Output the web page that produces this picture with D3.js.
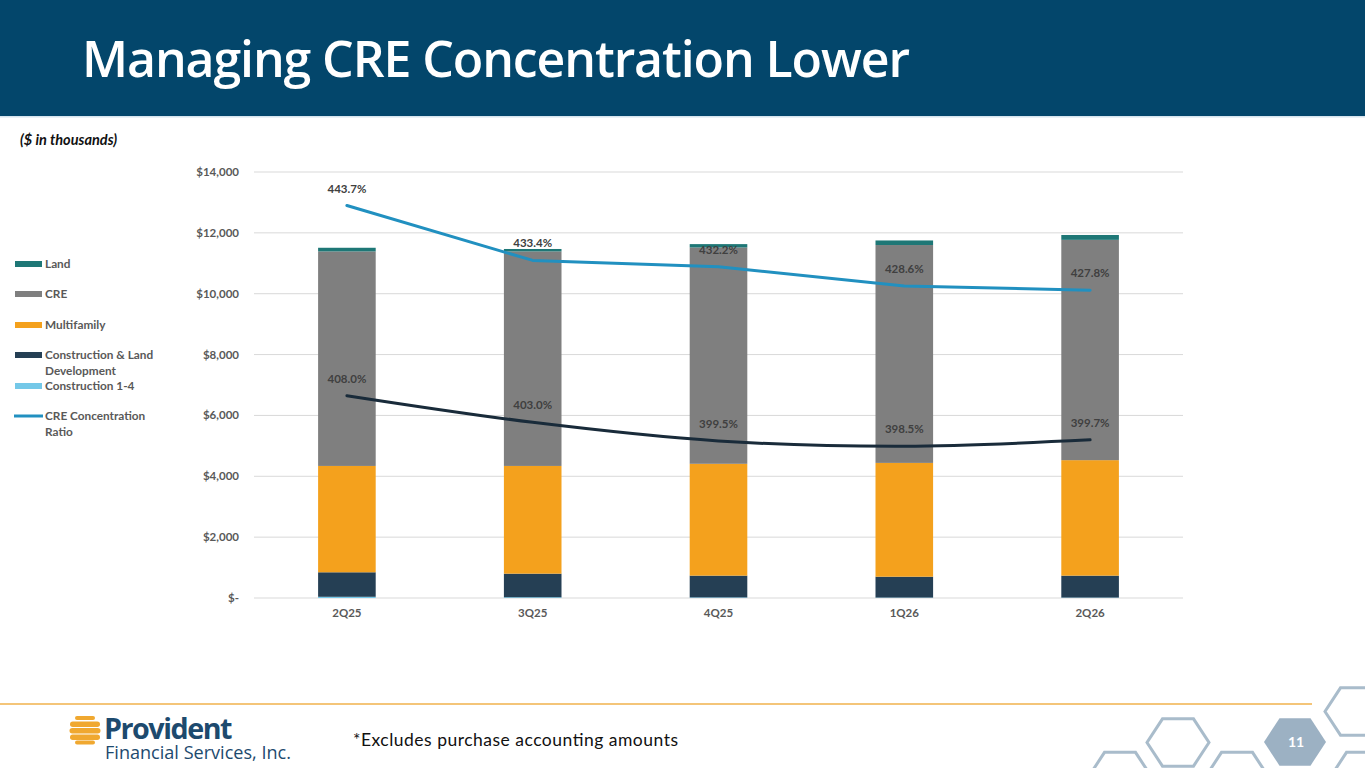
<!DOCTYPE html>
<html>
<head>
<meta charset="utf-8">
<script src="https://cdn.jsdelivr.net/npm/d3@7"></script>
<style>
  body { margin: 0; background: #fff; }
  svg { display: block; }
</style>
</head>
<body>
<svg id="slide" width="1365" height="768"></svg>
<script>
// quarters and stacked loan balances ($ thousands)
var quarters = ["2Q25", "3Q25", "4Q25", "1Q26", "2Q26"];
var construction14 = [40, 25, 20, 15, 15];
var constructionLand = [805, 775, 715, 685, 720];
var multifamily = [3495, 3540, 3675, 3740, 3795];
var cre = [7050, 7050, 7110, 7160, 7240];
var land = [120, 80, 110, 150, 160];

// ratios (%)
var creRatio = [443.7, 433.4, 432.2, 428.6, 427.8];
var creRatioAdj = [408.0, 403.0, 399.5, 398.5, 399.7];

var yTicks = [0, 2000, 4000, 6000, 8000, 10000, 12000, 14000];

var seriesKeys = ["c14", "cld", "mf", "cre", "land"];
var seriesColor = {
  c14: "#74c8e8", cld: "#253f54", mf: "#f4a11d", cre: "#7f7f7f", land: "#1e7776"
};

var rows = quarters.map((q, i) => ({
  q: q, c14: construction14[i], cld: constructionLand[i], mf: multifamily[i],
  cre: cre[i], land: land[i]
}));

var svg = d3.select("#slide");
var font = "Lato, 'Open Sans', sans-serif";

// header band
svg.append("rect").attr("width", 1365).attr("height", 116).attr("fill", "#03466b");
svg.append("rect").attr("y", 116).attr("width", 1365).attr("height", 1.5).attr("fill", "#d5e4ee");
svg.append("text")
    .attr("x", 82).attr("y", 77)
    .attr("fill", "#fff")
    .attr("font-family", "'Open Sans', sans-serif")
    .attr("font-weight", 600)
    .attr("font-size", 50)
    .attr("textLength", 828)
    .text("Managing CRE Concentration Lower");

svg.append("text")
    .attr("x", 20).attr("y", 145)
    .attr("font-family", font)
    .attr("font-style", "italic").attr("font-weight", 700)
    .attr("font-size", 14.5)
    .attr("fill", "#111")
    .text("($ in thousands)");

// chart area
var plotLeft = 254, plotRight = 1183, plotTop = 172, plotBottom = 598;

var x = d3.scaleBand().domain(quarters).range([plotLeft, plotRight]).paddingInner(0.69).paddingOuter(0.345);
var y = d3.scaleLinear().domain([0, 14000]).range([plotBottom, plotTop]);
var y2 = d3.scaleLinear().domain([370, 450]).range([plotBottom, plotTop]);

var g = svg.append("g");

g.selectAll("line.grid")
  .data(yTicks)
  .enter()
  .append("line")
    .attr("x1", plotLeft).attr("x2", plotRight)
    .attr("y1", d => y(d)).attr("y2", d => y(d))
    .attr("stroke", "#d9d9d9").attr("stroke-width", 1);

g.selectAll("text.ytick")
  .data(yTicks)
  .enter()
  .append("text")
    .attr("x", 239).attr("y", d => y(d) + 4)
    .attr("text-anchor", "end")
    .attr("font-family", font).attr("font-weight", 700).attr("font-size", 11.5)
    .attr("fill", "#595959")
    .text(d => d === 0 ? "$-" : "$" + d3.format(",")(d));

g.selectAll("text.xtick")
  .data(quarters)
  .enter()
  .append("text")
    .attr("x", d => x(d) + x.bandwidth() / 2).attr("y", 617)
    .attr("text-anchor", "middle")
    .attr("font-family", font).attr("font-weight", 700).attr("font-size", 11.5)
    .attr("fill", "#595959")
    .text(d => d);

var stacked = d3.stack().keys(seriesKeys)(rows);

g.selectAll("g.series")
  .data(stacked)
  .enter()
  .append("g")
    .attr("fill", d => seriesColor[d.key])
  .selectAll("rect")
  .data(d => d)
  .enter()
  .append("rect")
    .attr("x", d => x(d.data.q))
    .attr("width", x.bandwidth())
    .attr("y", d => y(d[1]))
    .attr("height", d => y(d[0]) - y(d[1]));

var cx = q => x(q) + x.bandwidth() / 2;

var lineStraight = d3.line()
  .x((d, i) => cx(quarters[i]))
  .y(d => y2(d));

var lineSmooth = d3.line()
  .x((d, i) => cx(quarters[i]))
  .y(d => y2(d))
  .curve(d3.curveCatmullRom.alpha(0.5));

g.append("path")
  .datum(creRatioAdj)
  .attr("d", lineSmooth)
  .attr("fill", "none").attr("stroke", "#192b3a").attr("stroke-width", 3)
  .attr("stroke-linecap", "round");

g.append("path")
  .datum(creRatio)
  .attr("d", lineStraight)
  .attr("fill", "none").attr("stroke", "#2190c0").attr("stroke-width", 3)
  .attr("stroke-linejoin", "round").attr("stroke-linecap", "round");

function ratioLabels(vals) {
  g.selectAll(null)
    .data(vals)
    .enter()
    .append("text")
      .attr("x", (d, i) => cx(quarters[i]))
      .attr("y", d => y2(d) - 13)
      .attr("text-anchor", "middle")
      .attr("font-family", font).attr("font-weight", 700).attr("font-size", 11.5)
      .attr("fill", "#404040")
      .text(d => d.toFixed(1) + "%");
}
ratioLabels(creRatio);
ratioLabels(creRatioAdj);

// legend
var legendItems = [
  { label: ["Land"], key: "land", y: 264 },
  { label: ["CRE"], key: "cre", y: 294 },
  { label: ["Multifamily"], key: "mf", y: 325 },
  { label: ["Construction & Land", "Development"], key: "cld", y: 355 },
  { label: ["Construction 1-4"], key: "c14", y: 386 },
  { label: ["CRE Concentration", "Ratio"], key: "line", y: 416 }
];

var lg = svg.append("g");
legendItems.forEach(it => {
  if (it.key === "line") {
    lg.append("line").attr("x1", 14).attr("x2", 43).attr("y1", it.y).attr("y2", it.y)
      .attr("stroke", "#2190c0").attr("stroke-width", 3);
  } else {
    lg.append("rect").attr("x", 15).attr("y", it.y - 3).attr("width", 27).attr("height", 6)
      .attr("fill", seriesColor[it.key]);
  }
  it.label.forEach((t, j) => {
    lg.append("text")
      .attr("x", 45).attr("y", it.y + 4 + j * 16)
      .attr("font-family", font).attr("font-weight", 700).attr("font-size", 11.8)
      .attr("fill", "#595959")
      .text(t);
  });
});

// footer
svg.append("line").attr("x1", 0).attr("x2", 1312).attr("y1", 704).attr("y2", 704)
  .attr("stroke", "#f1b24d").attr("stroke-width", 1.5);

var logo = svg.append("g");
var stripes = [[716, 4, 20], [721.5, 5.5, 30], [728, 5.5, 31], [734.5, 5.5, 30], [740.5, 4, 20]];
stripes.forEach(s => {
  logo.append("rect")
    .attr("x", 85 - s[2] / 2).attr("y", s[0]).attr("width", s[2]).attr("height", s[1])
    .attr("rx", s[1] / 2).attr("fill", "#f0a830");
});
logo.append("text").attr("x", 104).attr("y", 739)
  .attr("font-family", "'Open Sans', sans-serif").attr("font-weight", 700).attr("font-size", 29)
  .attr("letter-spacing", -1.5)
  .attr("textLength", 127).attr("lengthAdjust", "spacingAndGlyphs")
  .attr("fill", "#1d4a6e").text("Provident");
logo.append("text").attr("x", 105).attr("y", 758.5)
  .attr("font-family", "'Open Sans', sans-serif").attr("font-weight", 400).attr("font-size", 18)
  .attr("textLength", 186).attr("lengthAdjust", "spacingAndGlyphs")
  .attr("fill", "#1d4a6e").text("Financial Services, Inc.");

svg.append("text").attr("x", 353).attr("y", 746)
  .attr("font-family", font).attr("font-size", 17.5)
  .attr("textLength", 325)
  .attr("fill", "#111")
  .text("*Excludes purchase accounting amounts");

// hexagons
var hexes = [
  { cx: 1356, cy: 711.5, fill: false },
  { cx: 1178, cy: 742.5, fill: false },
  { cx: 1120, cy: 776, fill: false },
  { cx: 1237, cy: 776, fill: false },
  { cx: 1362, cy: 776, fill: false },
  { cx: 1295, cy: 742, fill: true }
];
function hexPath(cx, cy, r) {
  var pts = d3.range(6).map(k => {
    var a = Math.PI / 3 * k;
    return [cx + r * Math.cos(a), cy + r * 0.88 * Math.sin(a)];
  });
  return "M" + pts.join("L") + "Z";
}
svg.selectAll("path.hex")
  .data(hexes)
  .enter()
  .append("path")
    .attr("d", d => hexPath(d.cx, d.cy, 31))
    .attr("fill", d => d.fill ? "#9cb1c3" : "none")
    .attr("stroke", d => d.fill ? "none" : "#a9bccb")
    .attr("stroke-width", 3);
svg.append("text").attr("x", 1296).attr("y", 746.5)
  .attr("text-anchor", "middle")
  .attr("font-family", font).attr("font-weight", 700).attr("font-size", 14)
  .attr("fill", "#fff").text("11");
</script>
</body>
</html>
